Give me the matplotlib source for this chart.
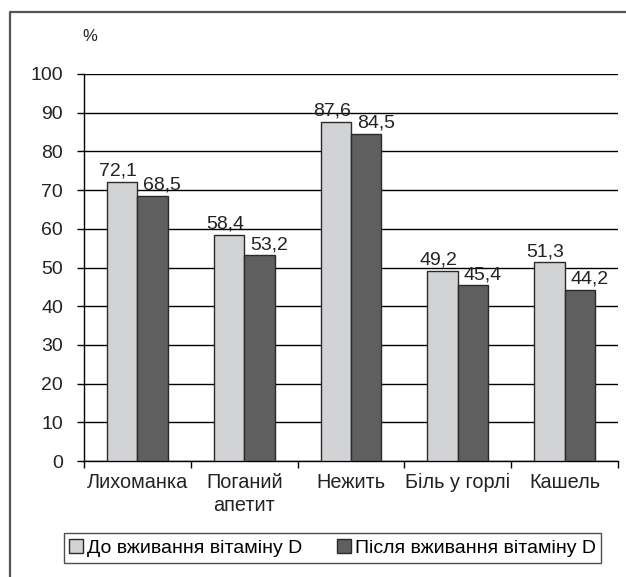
import matplotlib.pyplot as plt
import numpy as np
from matplotlib.lines import Line2D

categories = ['Лихоманка', 'Поганий\nапетит', 'Нежить', 'Біль у горлі', 'Кашель']
before = [72.1, 58.4, 87.6, 49.2, 51.3]
after = [68.5, 53.2, 84.5, 45.4, 44.2]
series_names = ['До вживання вітаміну D', 'Після вживання вітаміну D']
yticks = [0, 10, 20, 30, 40, 50, 60, 70, 80, 90, 100]

narrow = ['Liberation Sans Narrow', 'Liberation Sans', 'DejaVu Sans']
plain = ['Liberation Sans', 'DejaVu Sans']
light = '#d2d3d5'
dark = '#5f5f5f'
edge = '#2a2a2a'

fig = plt.figure(figsize=(6.26, 5.77), dpi=100)
W, H = 626, 577

# outer frame (open at the bottom)
fig.lines.append(Line2D([10 / W, 10 / W, 1.0], [0.0, 1 - 12 / H, 1 - 12 / H],
                        transform=fig.transFigure, color='#555555', lw=1.6))

ax = fig.add_axes([84 / W, 1 - 461 / H, (618 - 84) / W, (461 - 74) / H])

x = np.arange(len(categories))
bw = 0.285
b1 = ax.bar(x - bw / 2, before, bw, color=light, edgecolor=edge, linewidth=1.0, zorder=3,
            label=series_names[0])
b2 = ax.bar(x + bw / 2, after, bw, color=dark, edgecolor=edge, linewidth=1.0, zorder=3,
            label=series_names[1])

for rect, v in zip(b1, before):
    ax.annotate(f'{v:.1f}'.replace('.', ','), (rect.get_x() + rect.get_width() / 2, v),
                xytext=(-3, 1.5), textcoords='offset points', ha='center', va='bottom',
                fontsize=14, family=plain, color='#222222')
for rect, v in zip(b2, after):
    ax.annotate(f'{v:.1f}'.replace('.', ','), (rect.get_x() + rect.get_width() / 2, v),
                xytext=(7, 1.5), textcoords='offset points', ha='center', va='bottom',
                fontsize=14, family=plain, color='#222222')

ax.set_xlim(-0.5, len(categories) - 0.5)
ax.set_ylim(0, 100)
ax.set_yticks(yticks)
ax.set_yticklabels([str(t) for t in yticks], family=plain, fontsize=14, color='#222222')
ax.yaxis.grid(True, color='black', linewidth=1.0, zorder=0)
ax.set_axisbelow(True)

ax.set_xticks(x)
ax.set_xticklabels(categories, family=narrow, fontsize=14.3, color='#222222', linespacing=1.3)
ax.set_xticks(np.arange(len(categories) + 1) - 0.5, minor=True)
ax.tick_params(axis='x', which='major', length=0, pad=8.5)
ax.tick_params(axis='x', which='minor', length=5, width=1.0, direction='out')
ax.tick_params(axis='y', length=5, width=1.0, pad=10)

for s in ['top', 'right']:
    ax.spines[s].set_visible(False)
ax.spines['left'].set_linewidth(1.0)
ax.spines['bottom'].set_linewidth(1.0)

ax.text(-0.003, 1.085, '%', transform=ax.transAxes, fontsize=12, family=plain, color='#222222')

leg = fig.legend(loc='center', bbox_to_anchor=(332.5 / W, 1 - 548 / H), ncol=2,
                 prop={'family': narrow, 'size': 14}, frameon=True, fancybox=False,
                 edgecolor='#222222', handlelength=0.7, handleheight=0.7,
                 handletextpad=0.2, columnspacing=1.8, borderpad=0.3, borderaxespad=0)
leg.get_frame().set_linewidth(1.0)

fig.savefig('out.png', dpi=100)
